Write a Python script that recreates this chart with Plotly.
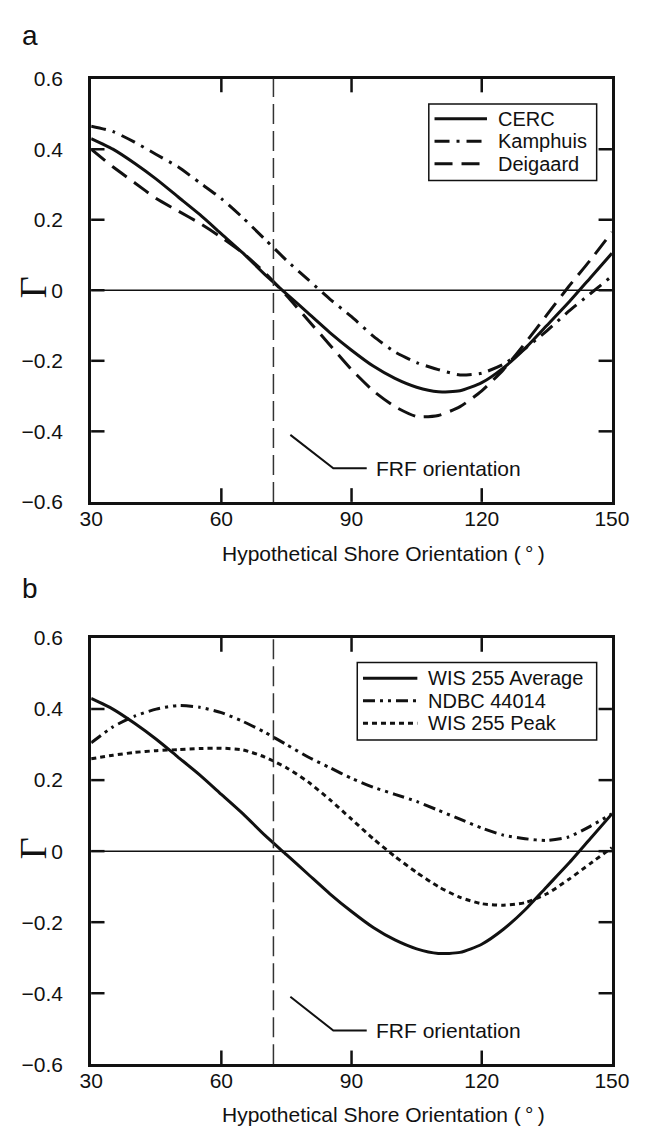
import plotly.graph_objects as go

# Shore orientation grid (degrees)
orientation = [30, 35, 40, 45, 50, 55, 60, 65, 70, 75, 80, 85, 90,
               95, 100, 105, 110, 115, 120, 125, 130, 135, 140, 145, 150]

# Panel a: transport formulas
cerc = [0.43, 0.40, 0.36, 0.315, 0.265, 0.215, 0.16, 0.105, 0.045, -0.01,
        -0.065, -0.12, -0.17, -0.215, -0.25, -0.275, -0.288, -0.285, -0.262,
        -0.22, -0.165, -0.10, -0.035, 0.035, 0.105]
kamphuis = [0.465, 0.45, 0.42, 0.385, 0.35, 0.305, 0.26, 0.205, 0.145, 0.085,
            0.03, -0.025, -0.075, -0.13, -0.175, -0.205, -0.225, -0.24, -0.235,
            -0.21, -0.165, -0.115, -0.06, -0.01, 0.04]
deigaard = [0.40, 0.35, 0.305, 0.26, 0.225, 0.19, 0.15, 0.105, 0.05, -0.015,
            -0.085, -0.155, -0.225, -0.285, -0.33, -0.358, -0.355, -0.33, -0.285,
            -0.225, -0.15, -0.07, 0.01, 0.085, 0.165]

# Panel b: wave climates
wis_avg = cerc
ndbc = [0.305, 0.35, 0.38, 0.40, 0.41, 0.405, 0.39, 0.365, 0.335, 0.30,
        0.265, 0.235, 0.205, 0.18, 0.16, 0.14, 0.115, 0.09, 0.065, 0.045,
        0.035, 0.03, 0.04, 0.07, 0.105]
wis_peak = [0.26, 0.27, 0.278, 0.283, 0.286, 0.289, 0.29, 0.285, 0.265, 0.235,
            0.195, 0.145, 0.09, 0.035, -0.015, -0.06, -0.10, -0.13, -0.148,
            -0.152, -0.145, -0.12, -0.08, -0.035, 0.01]

frf_orientation = 72
x_ticks = [30, 60, 90, 120, 150]
y_ticks = [0.6, 0.4, 0.2, 0, -0.2, -0.4, -0.6]
y_ticktext = ["0.6", "0.4", "0.2", "0", "\u22120.2", "\u22120.4", "\u22120.6"]

panel_a = [("CERC", cerc, "solid"),
           ("Kamphuis", kamphuis, "15px,7px,3px,7px"),
           ("Deigaard", deigaard, "18px,9px")]
panel_b = [("WIS 255 Average", wis_avg, "solid"),
           ("NDBC 44014", ndbc, "12px,5px,3px,5px,3px,5px"),
           ("WIS 255 Peak", wis_peak, "5px,4px")]

W, H = 649, 1136
FONT = "Liberation Sans, Arial, sans-serif"
INK = "#111111"
TICK_LEN = 14


def px_x(p):
    return p / W


def px_y(p):
    return 1 - p / H


panels = [
    # series, axis suffix, top px, bottom px, legend box, sample x, text x, row ys,
    # panel letter, letter y, x-title y
    (panel_a, "", 68, 500, (437, 613, 94, 172), (443, 498), 508, [109, 132, 155], "a", 24, 553),
    (panel_b, "2", 639, 1074, (362, 613, 664, 743), (368, 425), 435, [680, 703, 726], "b", 588, 1125),
]

fig = go.Figure()
shapes = []
annotations = []
x_left, x_right = 83, 629

for series, sfx, top, bot, box, samp, tx, rows, lab, lab_y, title_y in panels:
    xa = "x" + sfx
    ya = "y" + sfx
    for name, vals, dash in series:
        fig.add_trace(go.Scatter(
            x=orientation, y=vals, mode="lines", name=name, showlegend=False,
            line=dict(color=INK, width=3, dash=dash, shape="spline", smoothing=0.6),
            xaxis=xa, yaxis=ya))

    common = dict(showline=True, linewidth=3, linecolor=INK, mirror=True,
                  ticks="", showgrid=False, zeroline=False,
                  tickfont=dict(family=FONT, size=21, color=INK))
    fig.update_layout({
        "xaxis" + sfx: dict(domain=[px_x(x_left), px_x(x_right)], range=[30, 150],
                            tickvals=x_ticks, anchor=ya, ticklabelstandoff=-4, **common),
        "yaxis" + sfx: dict(domain=[px_y(bot), px_y(top)], range=[-0.6, 0.6],
                            tickvals=y_ticks,
                            ticktext=[t + "\u2002\u2002" for t in y_ticktext],
                            anchor=xa, **common),
    })

    # inward tick marks on all four sides of the frame
    fx = TICK_LEN / (x_right - x_left)
    fy = TICK_LEN / (bot - top)
    for xv in x_ticks[1:-1]:
        for y0, y1 in ((0, fy), (1, 1 - fy)):
            shapes.append(dict(type="line", xref=xa, yref=ya + " domain",
                               x0=xv, x1=xv, y0=y0, y1=y1,
                               line=dict(color=INK, width=2.5)))
    for yv in y_ticks[1:-1]:
        for x0, x1 in ((0, fx), (1, 1 - fx)):
            shapes.append(dict(type="line", xref=xa + " domain", yref=ya,
                               x0=x0, x1=x1, y0=yv, y1=yv,
                               line=dict(color=INK, width=2.5)))

    # zero line
    shapes.append(dict(type="line", xref=xa, yref=ya, x0=30, x1=150, y0=0, y1=0,
                       line=dict(color=INK, width=1.5), layer="below"))
    # FRF orientation marker and its label
    shapes.append(dict(type="line", xref=xa, yref=ya + " domain", x0=frf_orientation,
                       x1=frf_orientation, y0=0, y1=1,
                       line=dict(color="#333333", width=1.5, dash="20px,7px")))
    shapes.append(dict(type="path", xref=xa, yref=ya,
                       path="M 75.9,-0.41 L 85.8,-0.505 L 93.5,-0.505",
                       line=dict(color=INK, width=2)))
    annotations.append(dict(x=95.2, y=-0.505, xref=xa, yref=ya, text="FRF orientation",
                            showarrow=False, xanchor="left", yanchor="middle",
                            font=dict(family=FONT, size=21, color=INK)))

    # legend box
    bx0, bx1, by0, by1 = box
    shapes.append(dict(type="rect", xref="paper", yref="paper",
                       x0=px_x(bx0), x1=px_x(bx1), y0=px_y(by1), y1=px_y(by0),
                       fillcolor="white", line=dict(color=INK, width=1.5)))
    for (name, vals, dash), ry in zip(series, rows):
        shapes.append(dict(type="line", xref="paper", yref="paper",
                           x0=px_x(samp[0]), x1=px_x(samp[1]), y0=px_y(ry), y1=px_y(ry),
                           line=dict(color=INK, width=3, dash=dash)))
        annotations.append(dict(x=px_x(tx), y=px_y(ry), xref="paper", yref="paper",
                                text=name, showarrow=False, xanchor="left",
                                yanchor="middle", borderpad=0,
                                font=dict(family=FONT, size=20, color=INK)))

    # panel letter
    annotations.append(dict(x=px_x(8), y=px_y(lab_y), xref="paper", yref="paper",
                            text=lab, showarrow=False, xanchor="left", yanchor="middle",
                            font=dict(family=FONT, size=28, color=INK)))
    # axis titles
    annotations.append(dict(x=px_x(389), y=px_y(title_y), xref="paper", yref="paper",
                            text="Hypothetical Shore Orientation (\u2009\u00b0\u2009)",
                            showarrow=False, xanchor="center", yanchor="middle",
                            font=dict(family=FONT, size=21, color=INK)))
    zero_px = (top + bot) / 2
    annotations.append(dict(x=px_x(22), y=px_y(zero_px - 3), xref="paper", yref="paper",
                            text="\u0393", showarrow=False, textangle=-90,
                            xanchor="center", yanchor="middle",
                            font=dict(family="Liberation Serif, Times New Roman, serif",
                                      size=38, color=INK)))

fig.update_layout(width=W, height=H, margin=dict(l=0, r=0, t=0, b=0),
                  paper_bgcolor="white", plot_bgcolor="white",
                  shapes=shapes, annotations=annotations, showlegend=False)

fig.write_html("out.html")
